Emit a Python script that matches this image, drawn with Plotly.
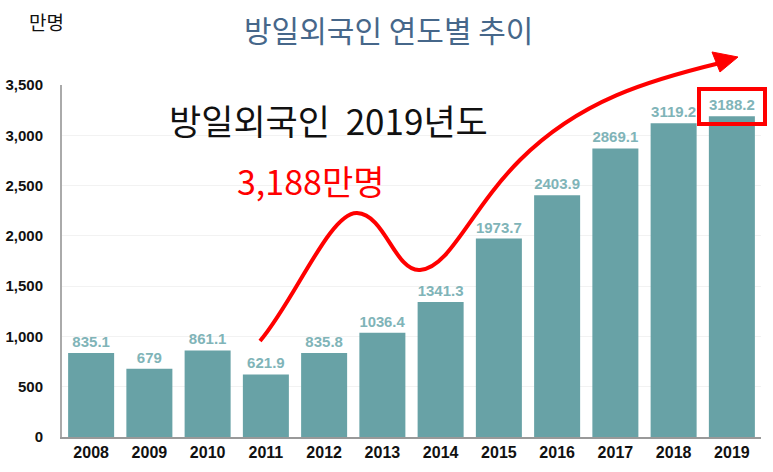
import plotly.graph_objects as go

years = ["2008", "2009", "2010", "2011", "2012", "2013", "2014", "2015", "2016", "2017", "2018", "2019"]
visitors = [835.1, 679, 861.1, 621.9, 835.8, 1036.4, 1341.3, 1973.7, 2403.9, 2869.1, 3119.2, 3188.2]
labels = ["835.1", "679", "861.1", "621.9", "835.8", "1036.4", "1341.3", "1973.7", "2403.9", "2869.1", "3119.2", "3188.2"]
y_ticks = [0, 500, 1000, 1500, 2000, 2500, 3000, 3500]

W, H = 773, 472
ML, MR, MT, MB = 62, 12, 85, 35
PW, PH = W - ML - MR, H - MT - MB


def px(x):
    return (x - ML) / PW


def py(y):
    return (H - MB - y) / PH


def path(cmds):
    out = []
    for c in cmds:
        if isinstance(c, str):
            out.append(c)
        else:
            out.append(f"{px(c[0]):.4f},{py(c[1]):.4f}")
    return " ".join(out)


fig = go.Figure()
fig.add_trace(go.Bar(
    x=years, y=visitors, text=labels, textposition="outside",
    marker=dict(color="#68a2a6", line=dict(width=0)),
    textfont=dict(family="Arial", size=15, color="#80b4b8", weight="bold"),
    cliponaxis=False,
))

curve = path(["M", (260, 341), "C", (295, 300), (330, 212), (357, 213),
              "C", (385, 214), (395, 272), (420, 270),
              "C", (450, 268), (470, 210), (520, 160),
              "C", (580, 100), (650, 80), (720, 63)])
arrow = path(["M", (712, 52), "L", (738, 57), "L", (720, 72), "Z"])

shapes = [
    dict(type="path", path=curve, xref="paper", yref="paper",
         line=dict(color="#ff0000", width=4)),
    dict(type="path", path=arrow, xref="paper", yref="paper",
         fillcolor="#ff0000", line=dict(color="#ff0000", width=1)),
    dict(type="rect", xref="paper", yref="paper",
         x0=px(699), x1=px(765), y0=py(124), y1=py(89),
         line=dict(color="#ff0000", width=4)),
]

annotations = [
    dict(text="방일외국인 연도별 추이", x=px(388), y=py(5), xref="paper", yref="paper",
         showarrow=False, font=dict(family="Noto Sans CJK KR", size=30, color="#46678a")),
    dict(text="만명", x=px(27), y=py(6), xref="paper", yref="paper",
         showarrow=False, font=dict(family="Noto Sans CJK KR", size=19, color="#111111")),
    dict(text="방일외국인  2019년도", x=px(328), y=py(92), xref="paper", yref="paper",
         showarrow=False, font=dict(family="Noto Sans CJK KR", size=35, color="#111111")),
    dict(text="3,188만명", x=px(311), y=py(154), xref="paper", yref="paper",
         showarrow=False, font=dict(family="Noto Sans CJK KR", size=34, color="#ff0000")),
]

fig.update_layout(
    width=W, height=H,
    margin=dict(l=ML, r=MR, t=MT, b=MB),
    paper_bgcolor="white", plot_bgcolor="white",
    bargap=0.21, showlegend=False,
    shapes=shapes, annotations=annotations,
    xaxis=dict(showline=True, linecolor="#999999", linewidth=2, showgrid=False,
               tickfont=dict(family="Arial", size=16, color="#111111", weight="bold"),
               ticks="", automargin=False),
    yaxis=dict(range=[0, 3500], tickvals=y_ticks, tickformat=",",
               showline=True, linecolor="#aaaaaa", linewidth=2,
               showgrid=True, gridcolor="#f2f2f2", zeroline=False,
               tickfont=dict(family="Arial", size=15, color="#111111", weight="bold"),
               ticks="", ticklabelstandoff=14, automargin=False),
)

fig.write_html("out.html")
